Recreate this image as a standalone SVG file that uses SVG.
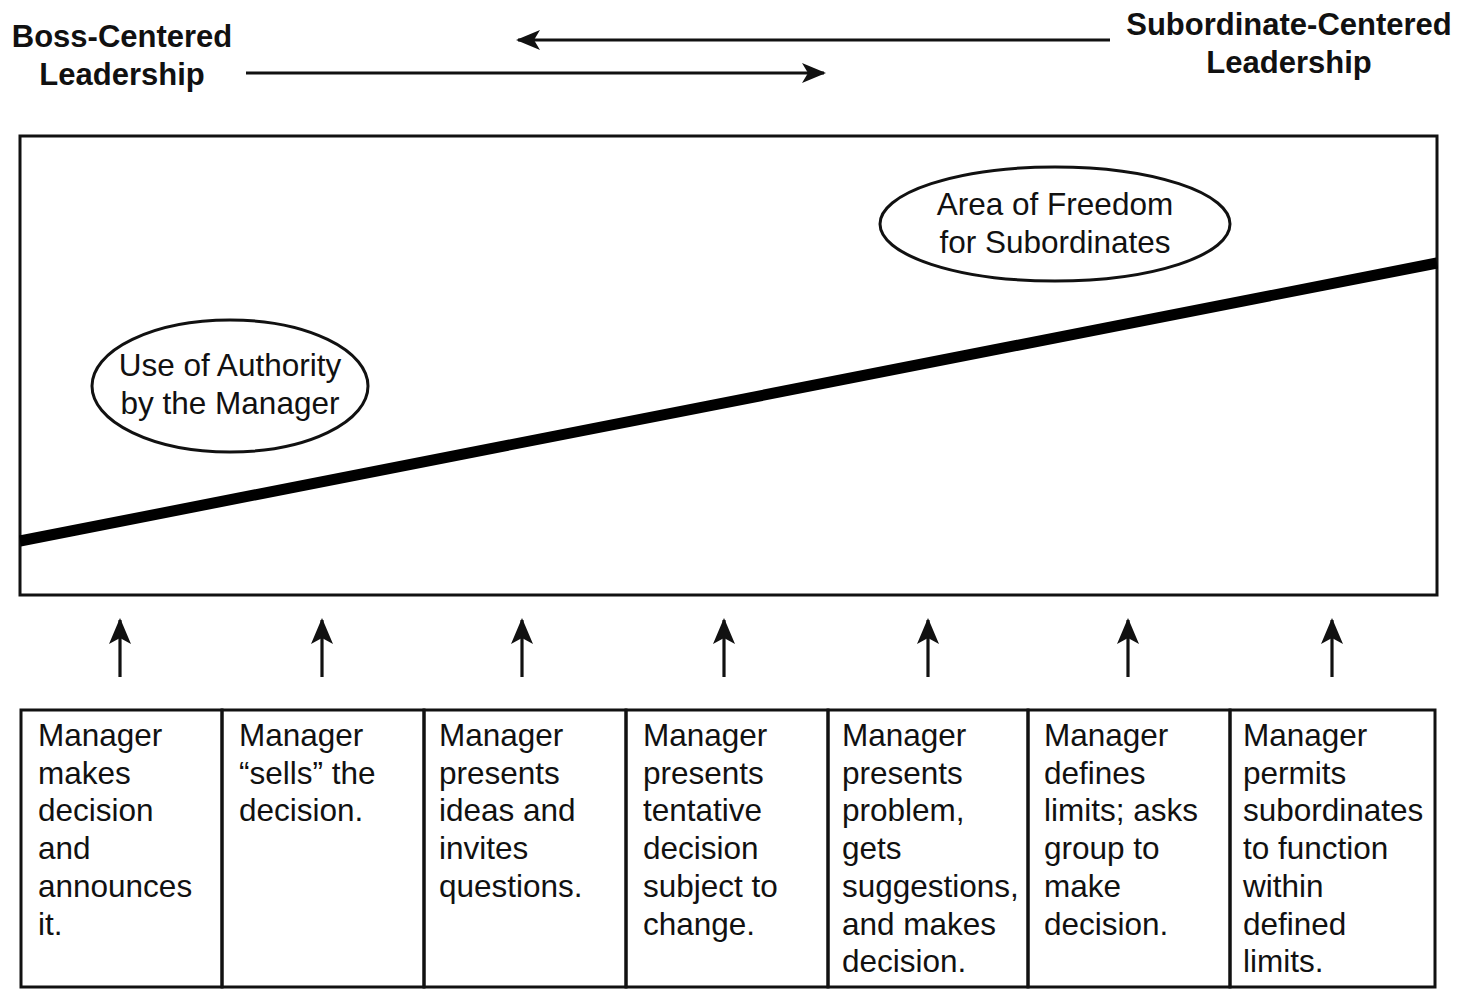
<svg xmlns="http://www.w3.org/2000/svg" width="1471" height="992" viewBox="0 0 1471 992">
<defs>
<style>
.hd{font-family:"Liberation Sans",Arial,sans-serif;font-weight:bold;font-size:31px;fill:#111;text-anchor:middle}
.el{font-family:"Liberation Sans",Arial,sans-serif;font-size:31.5px;fill:#111;text-anchor:middle}
.bx{font-family:"Liberation Sans",Arial,sans-serif;font-size:31.5px;fill:#111}
.frame{fill:none;stroke:#111;stroke-width:3}
.conn{stroke:#111;stroke-width:3.2;fill:none}
</style>
<marker id="ah" viewBox="0 0 24 22" refX="22" refY="11" markerWidth="24" markerHeight="22" markerUnits="userSpaceOnUse" orient="auto">
<path d="M0,1 L24,11 L0,21 L6,11 Z" fill="#111"/>
</marker>
<marker id="av" viewBox="0 0 26 24" refX="24" refY="12" markerWidth="26" markerHeight="24" markerUnits="userSpaceOnUse" orient="auto">
<path d="M0,1 L26,12 L0,23 L6,12 Z" fill="#111"/>
</marker>
</defs>
<rect width="1471" height="992" fill="#fff"/>

<g id="boss-header">
<text class="hd" x="122" y="47">Boss-Centered</text>
<text class="hd" x="122" y="85">Leadership</text>
</g>
<g id="sub-header">
<text class="hd" x="1289" y="35">Subordinate-Centered</text>
<text class="hd" x="1289" y="73">Leadership</text>
</g>

<g id="continuum">
<rect class="frame" x="20" y="136" width="1417" height="459"/>
<line x1="20" y1="541" x2="1437" y2="263" stroke="#000" stroke-width="11"/>
</g>

<g id="authority">
<ellipse cx="230" cy="386" rx="138" ry="66" fill="#fff" stroke="#111" stroke-width="3"/>
<text class="el" x="230" y="376">Use of Authority</text>
<text class="el" x="230" y="414">by the Manager</text>
</g>

<g id="freedom">
<ellipse cx="1055" cy="224" rx="175" ry="57" fill="#fff" stroke="#111" stroke-width="3"/>
<text class="el" x="1055" y="215">Area of Freedom</text>
<text class="el" x="1055" y="253">for Subordinates</text>
</g>

<g id="connectors">
<line class="conn" x1="1110" y1="40" x2="518" y2="40" marker-end="url(#ah)"/>
<line class="conn" x1="246" y1="73" x2="824" y2="73" marker-end="url(#ah)"/>
<line class="conn" x1="120" y1="677" x2="120" y2="620" marker-end="url(#av)"/>
<line class="conn" x1="322" y1="677" x2="322" y2="620" marker-end="url(#av)"/>
<line class="conn" x1="522" y1="677" x2="522" y2="620" marker-end="url(#av)"/>
<line class="conn" x1="724" y1="677" x2="724" y2="620" marker-end="url(#av)"/>
<line class="conn" x1="928" y1="677" x2="928" y2="620" marker-end="url(#av)"/>
<line class="conn" x1="1128" y1="677" x2="1128" y2="620" marker-end="url(#av)"/>
<line class="conn" x1="1332" y1="677" x2="1332" y2="620" marker-end="url(#av)"/>
</g>

<g id="box1">
<rect class="frame" x="21" y="710" width="201" height="277"/>
<text class="bx" x="38" y="746">Manager</text>
<text class="bx" x="38" y="784">makes</text>
<text class="bx" x="38" y="821">decision</text>
<text class="bx" x="38" y="859">and</text>
<text class="bx" x="38" y="897">announces</text>
<text class="bx" x="38" y="935">it.</text>
</g>
<g id="box2">
<rect class="frame" x="222" y="710" width="202" height="277"/>
<text class="bx" x="239" y="746">Manager</text>
<text class="bx" x="239" y="784">“sells” the</text>
<text class="bx" x="239" y="821">decision.</text>
</g>
<g id="box3">
<rect class="frame" x="424" y="710" width="202" height="277"/>
<text class="bx" x="439" y="746">Manager</text>
<text class="bx" x="439" y="784">presents</text>
<text class="bx" x="439" y="821">ideas and</text>
<text class="bx" x="439" y="859">invites</text>
<text class="bx" x="439" y="897">questions.</text>
</g>
<g id="box4">
<rect class="frame" x="626" y="710" width="202" height="277"/>
<text class="bx" x="643" y="746">Manager</text>
<text class="bx" x="643" y="784">presents</text>
<text class="bx" x="643" y="821">tentative</text>
<text class="bx" x="643" y="859">decision</text>
<text class="bx" x="643" y="897">subject to</text>
<text class="bx" x="643" y="935">change.</text>
</g>
<g id="box5">
<rect class="frame" x="828" y="710" width="200" height="277"/>
<text class="bx" x="842" y="746">Manager</text>
<text class="bx" x="842" y="784">presents</text>
<text class="bx" x="842" y="821">problem,</text>
<text class="bx" x="842" y="859">gets</text>
<text class="bx" x="842" y="897">suggestions,</text>
<text class="bx" x="842" y="935">and makes</text>
<text class="bx" x="842" y="972">decision.</text>
</g>
<g id="box6">
<rect class="frame" x="1028" y="710" width="202" height="277"/>
<text class="bx" x="1044" y="746">Manager</text>
<text class="bx" x="1044" y="784">defines</text>
<text class="bx" x="1044" y="821">limits; asks</text>
<text class="bx" x="1044" y="859">group to</text>
<text class="bx" x="1044" y="897">make</text>
<text class="bx" x="1044" y="935">decision.</text>
</g>
<g id="box7">
<rect class="frame" x="1230" y="710" width="205" height="277"/>
<text class="bx" x="1243" y="746">Manager</text>
<text class="bx" x="1243" y="784">permits</text>
<text class="bx" x="1243" y="821">subordinates</text>
<text class="bx" x="1243" y="859">to function</text>
<text class="bx" x="1243" y="897">within</text>
<text class="bx" x="1243" y="935">defined</text>
<text class="bx" x="1243" y="972">limits.</text>
</g>
</svg>
